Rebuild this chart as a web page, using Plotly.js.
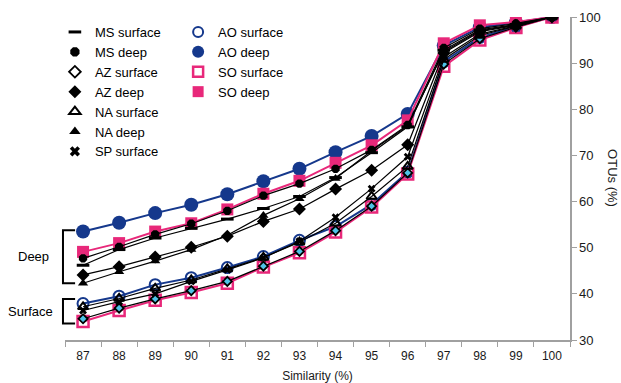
<!DOCTYPE html>
<html>
<head>
<meta charset="utf-8">
<script src="https://cdn.plot.ly/plotly-3.0.1.min.js"></script>
<style>
html,body{margin:0;padding:0;background:#fff;}
#chart{width:621px;height:383px;}
</style>
</head>
<body>
<div id="chart"></div>
<script>
// Categories (similarity %)
var similarity = ['87','88','89','90','91','92','93','94','95','96','97','98','99','100'];

// OTUs (%) per series
var MS_surface = [46.2, 49.6, 52.1, 54.2, 56.2, 58.5, 61.1, 65.2, 70.6, 76.2, 92.8, 97.2, 98.4, 100];
var MS_deep    = [47.7, 50.2, 52.9, 55.2, 58.0, 61.3, 63.9, 67.1, 71.2, 76.6, 93.3, 97.5, 98.6, 100];
var AZ_surface = [34.6, 36.9, 38.9, 40.7, 42.7, 46.0, 49.2, 53.7, 59.0, 66.2, 89.8, 95.3, 97.8, 100];
var AZ_deep    = [44.1, 45.9, 48.0, 50.1, 52.5, 55.7, 58.4, 62.7, 66.8, 72.3, 92.2, 96.8, 98.2, 100];
var NA_surface = [37.2, 39.0, 41.2, 43.0, 45.4, 47.9, 51.2, 55.3, 61.1, 67.6, 90.8, 96.0, 98.0, 100];
var NA_deep    = [42.3, 44.8, 47.1, 49.6, 52.7, 57.0, 60.6, 65.0, 71.0, 76.4, 92.5, 97.0, 98.3, 100];
var SP_surface = [36.4, 38.3, 40.0, 42.7, 45.2, 47.8, 51.4, 56.6, 62.8, 69.7, 91.3, 96.3, 98.1, 100];
var AO_surface = [37.9, 39.5, 42.0, 43.5, 45.7, 48.1, 51.6, 54.6, 59.4, 66.4, 90.3, 95.6, 97.9, 100];
var AO_deep    = [53.5, 55.4, 57.5, 59.3, 61.6, 64.4, 67.1, 70.7, 74.2, 79.0, 93.8, 97.8, 98.8, 100];
var SO_surface = [34.0, 36.4, 38.6, 40.3, 42.3, 45.8, 48.9, 53.4, 58.8, 66.0, 89.3, 95.0, 97.7, 100];
var SO_deep    = [49.1, 51.0, 53.5, 55.3, 58.3, 61.7, 64.5, 68.4, 72.2, 77.6, 94.3, 98.2, 98.9, 100];

var NAVY = '#15388c', PINK = '#e8287a', BLACK = '#000000', CYAN = '#4fc3e8';

var series = [
  // colored series first (drawn underneath)
  {name:'AO deep',    y:AO_deep,    color:NAVY, lw:2,   sym:'circle',          size:14, mline:0,   mcol:NAVY,  leg:'legend2', lsize:12},
  {name:'SO deep',    y:SO_deep,    color:PINK, lw:2,   sym:'square',          size:12, mline:0,   mcol:PINK,  leg:'legend2', lsize:11},
  {name:'AO surface', y:AO_surface, color:NAVY, lw:2,   sym:'circle-open',     size:11, mline:2,   mcol:NAVY,  leg:'legend2', lsize:10},
  {name:'SO surface', y:SO_surface, color:PINK, lw:2,   sym:'square-open',     size:11, mline:2.5, mcol:PINK,  leg:'legend2', lsize:10},
  {name:'MS surface', y:MS_surface, color:BLACK, lw:1.2, sym:'line-ew',        size:9,  mline:3,   mcol:BLACK, leg:'legend',  lsize:9},
  {name:'MS deep',    y:MS_deep,    color:BLACK, lw:1.2, sym:'octagon',        size:9,  mline:0,   mcol:BLACK, leg:'legend',  lsize:10},
  {name:'AZ surface', y:AZ_surface, color:BLACK, lw:1.2, sym:'diamond',        size:7,  mline:1.8, mcol:CYAN,  leg:'legend',  lsize:9},
  {name:'AZ deep',    y:AZ_deep,    color:BLACK, lw:1.2, sym:'diamond',        size:10, mline:0,   mcol:BLACK, leg:'legend',  lsize:10},
  {name:'NA surface', y:NA_surface, color:BLACK, lw:1.2, sym:'triangle-up-open', size:9, mline:2,  mcol:BLACK, leg:'legend',  lsize:10},
  {name:'NA deep',    y:NA_deep,    color:BLACK, lw:1.2, sym:'triangle-up',    size:9,  mline:0,   mcol:BLACK, leg:'legend',  lsize:10},
  {name:'SP surface', y:SP_surface, color:BLACK, lw:1.2, sym:'x',              size:7,  mline:0,   mcol:BLACK, leg:'legend',  lsize:9}
];

var legendOrder1 = ['MS surface','MS deep','AZ surface','AZ deep','NA surface','NA deep','SP surface'];
var legendOrder2 = ['AO surface','AO deep','SO surface','SO deep'];

var traces = [];
series.forEach(function(s){
  traces.push({
    type:'scatter', mode:'lines+markers', name:s.name, x:similarity, y:s.y,
    showlegend:false, legendgroup:s.name,
    line:{color:s.color, width:s.lw},
    marker:{symbol:s.sym, size:s.size, color:s.mcol, line:{color:s.color, width:s.mline}},
    hoverinfo:'x+y+name'
  });
});
function legendTrace(name, idx){
  var s = series.filter(function(t){return t.name===name;})[0];
  var legendColor = (s.name==='AZ surface') ? '#ffffff' : s.mcol;
  return {
    type:'scatter', mode:'markers', name:s.name, x:[null], y:[null],
    legend:s.leg, legendgroup:s.name, legendrank:idx, showlegend:true,
    marker:{symbol:s.sym, size:s.lsize, color:legendColor, line:{color:s.color, width:s.mline}}
  };
}
legendOrder1.forEach(function(n,i){traces.push(legendTrace(n,i+1));});
legendOrder2.forEach(function(n,i){traces.push(legendTrace(n,i+1));});

var FONT = 'Liberation Sans, Arial, sans-serif';
var AXC = '#a0a0a0';

var layout = {
  width:621, height:383,
  margin:{l:65, r:51, t:17, b:43},
  paper_bgcolor:'#ffffff', plot_bgcolor:'#ffffff',
  font:{family:FONT, size:12, color:'#1a1a1a'},
  xaxis:{
    type:'category', range:[-0.5, 13.5], tickson:'boundaries',
    ticks:'outside', ticklen:5, tickcolor:AXC, tickwidth:1,
    showline:true, linecolor:AXC, linewidth:1.5, showgrid:false, zeroline:false,
    tickfont:{size:12, family:FONT, color:'#1a1a1a'}, ticklabelstandoff:4,
    title:{text:'Similarity (%)', font:{size:12, family:FONT, color:'#1a1a1a'}, standoff:13}
  },
  yaxis:{
    side:'right', range:[30,100], dtick:10, tick0:30,
    ticks:'outside', ticklen:5, tickcolor:AXC, tickwidth:1,
    showline:true, linecolor:AXC, linewidth:1.5, showgrid:false, zeroline:false,
    tickfont:{size:13, family:FONT, color:'#1a1a1a'}
  },
  legend:{
    x:-0.02, xanchor:'left', y:1.0, yanchor:'top',
    bgcolor:'rgba(0,0,0,0)', borderwidth:0,
    font:{size:13, family:FONT, color:'#000'},
    itemwidth:30, tracegroupgap:0, traceorder:'normal'
  },
  legend2:{
    x:0.224, xanchor:'left', y:1.0, yanchor:'top',
    bgcolor:'rgba(0,0,0,0)', borderwidth:0,
    font:{size:13, family:FONT, color:'#000'},
    itemwidth:30, tracegroupgap:0, traceorder:'normal'
  },
  shapes:[
    {type:'path', xref:'paper', yref:'y', path:'M 0.02 53.8 L -0.004 53.8 L -0.004 42.3 L 0.02 42.3', line:{color:'#000', width:2}},
    {type:'path', xref:'paper', yref:'y', path:'M 0.02 38.9 L -0.004 38.9 L -0.004 33.6 L 0.02 33.6', line:{color:'#000', width:2}}
  ],
  annotations:[
    {text:'Deep', xref:'paper', yref:'y', x:-0.063, y:48.0, xanchor:'center', yanchor:'middle', showarrow:false, font:{size:13, family:FONT, color:'#000'}},
    {text:'Surface', xref:'paper', yref:'y', x:-0.068, y:36.2, xanchor:'center', yanchor:'middle', showarrow:false, font:{size:13, family:FONT, color:'#000'}},
    {text:'OTUs (%)', xref:'paper', yref:'paper', x:1.084, y:0.5, xanchor:'center', yanchor:'middle', textangle:90, showarrow:false, font:{size:13, family:FONT, color:'#1a1a1a'}}
  ],
  showlegend:true
};

Plotly.newPlot('chart', traces, layout, {staticPlot:true, displayModeBar:false});
</script>
</body>
</html>
